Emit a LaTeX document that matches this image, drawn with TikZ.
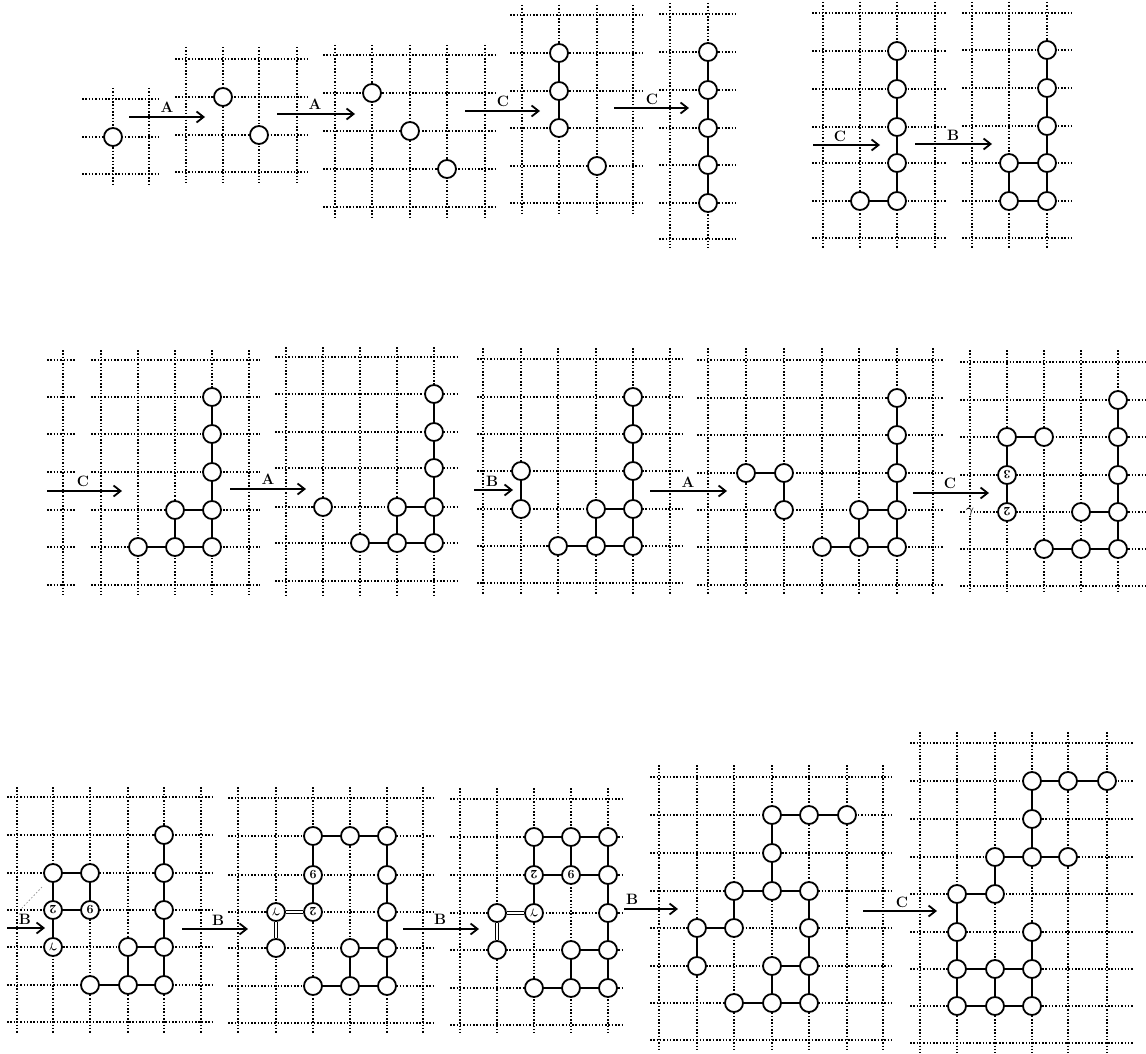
\documentclass[tikz,border=0pt]{standalone}
\usepackage{amsmath}
\usetikzlibrary{arrows.meta}
\tikzset{
 gridline/.style={line width=1.5pt, dash pattern=on 1.5pt off 1.8pt},
 mon/.style={circle, draw, line width=1.8pt, fill=white, minimum size=18pt, inner sep=0pt},
 bond/.style={line width=1.8pt},
 hbond/.style={line width=2.6pt},
 dbond/.style={double, double distance=2.4pt, line width=1.1pt},
 steparrow/.style={line width=1.8pt, -{Straight Barb[length=7pt,width=11pt,line width=1.8pt]}},
 oplabel/.style={font=\fontsize{15}{15}\selectfont\bfseries},
 lbl/.style={font=\fontsize{12.5}{12.5}\selectfont\bfseries, rotate=180},
}
\newcommand\gam{$\boldsymbol{\gamma}$}
\newcommand\lat[6]{%
 \foreach \gx in {#1}{\draw[gridline] (\gx,#5) -- (\gx,#6);}%
 \foreach \gy in {#2}{\draw[gridline] (#3,\gy) -- (#4,\gy);}}
\newcommand\bd[2]{\draw[bond] (#1) -- (#2);}
\newcommand\db[2]{\draw[dbond] (#1) -- (#2);}
\newcommand\mn[3]{\node[mon] (#1) at (#2,#3) {};}
\newcommand\ml[4]{\node[mon,lbl] (#1) at (#2,#3) {#4};}
\newcommand\oparrow[7]{% name, x1, x2, y, label, lx, ly
 \coordinate (#1s) at (#2,#4); \coordinate (#1e) at (#3,#4);
 \draw[steparrow] (#1s) -- (#1e);
 \node[oplabel] (#1l) at (#6,#7) {#5};}
\begin{document}
\begin{tikzpicture}[x=1pt,y=-1pt]
\useasboundingbox (0,0) rectangle (1146,1054);
% ---------------- Row 1 ----------------
\lat{113,149}{99,137,174}{82}{160}{88}{184}
\mn{p1a}{113}{137}
\oparrow{r1a}{129}{205}{117}{A}{167}{107}
\lat{186,223,259,297}{59,97,135,172}{175}{308}{47}{183}
\mn{p2a}{223}{97} \mn{p2b}{259}{135}
\oparrow{r1b}{277}{355}{114}{A}{315}{104}
\lat{335,372,410,447,485}{55,93,131,169,207}{323}{495}{45}{217}
\mn{p3a}{372}{93} \mn{p3b}{410}{131} \mn{p3c}{447}{169}
\oparrow{r1c}{465}{540}{111}{C}{503}{101}
\lat{522,559,597,633}{15,53,91,128,166,203}{510}{643}{5}{213}
\mn{p4a}{559}{53} \mn{p4b}{559}{91} \mn{p4c}{559}{128} \mn{p4d}{597}{166}
\bd{p4a}{p4b} \bd{p4b}{p4c}
\oparrow{r1d}{614}{689}{108}{C}{652}{99}
\lat{670,708}{14,52,90,128,165,203,239}{659}{735}{3}{248}
\mn{p5a}{708}{52} \mn{p5b}{708}{90} \mn{p5c}{708}{128} \mn{p5d}{708}{165} \mn{p5e}{708}{203}
\bd{p5a}{p5b} \bd{p5b}{p5c} \bd{p5c}{p5d} \bd{p5d}{p5e}
\lat{823,860,897,935}{13,51,89,127,163,201,238}{812}{947}{2}{248}
\mn{p6a}{897}{51} \mn{p6b}{897}{89} \mn{p6c}{897}{127} \mn{p6d}{897}{163} \mn{p6e}{897}{201} \mn{p6f}{860}{201}
\bd{p6a}{p6b} \bd{p6b}{p6c} \bd{p6c}{p6d} \bd{p6d}{p6e} \bd{p6f}{p6e}
\oparrow{r1e}{813}{880}{145}{C}{840}{136}
\oparrow{r1f}{915}{992}{144}{B}{953}{135}
\lat{972,1009,1047}{13,50,88,126,163,201,238}{962}{1073}{2}{248}
\mn{p7a}{1047}{50} \mn{p7b}{1047}{88} \mn{p7c}{1047}{126} \mn{p7d}{1047}{163} \mn{p7e}{1047}{201}
\mn{p7f}{1009}{163} \mn{p7g}{1009}{201}
\bd{p7a}{p7b} \bd{p7b}{p7c} \bd{p7c}{p7d} \bd{p7d}{p7e} \bd{p7f}{p7d} \bd{p7g}{p7e} \bd{p7f}{p7g}
% ---------------- Row 2 ----------------
\lat{63}{360,397,434,472,510,547,585}{47}{75}{350}{595}
\lat{101,138,175,212,249}{360,397,434,472,510,547,585}{91}{260}{350}{595}
\mn{p9a}{212}{397} \mn{p9b}{212}{434} \mn{p9c}{212}{472} \mn{p9d}{212}{510} \mn{p9e}{212}{547}
\mn{p9f}{175}{510} \mn{p9g}{175}{547} \mn{p9h}{138}{547}
\bd{p9a}{p9b} \bd{p9b}{p9c} \bd{p9c}{p9d} \bd{p9d}{p9e} \bd{p9f}{p9d} \bd{p9f}{p9g} \bd{p9g}{p9e} \bd{p9h}{p9g}
\oparrow{r2a}{47}{122}{491}{C}{83}{481}
\oparrow{r2b}{230}{306}{489}{A}{268}{479}
\lat{286,323,360,397,434}{357,394,432,468,507,543,581}{275}{458}{347}{595}
\mn{p10x}{323}{507}
\mn{p10a}{434}{394} \mn{p10b}{434}{432} \mn{p10c}{434}{468} \mn{p10d}{434}{507} \mn{p10e}{434}{543}
\mn{p10f}{397}{507} \mn{p10g}{397}{543} \mn{p10h}{360}{543}
\bd{p10a}{p10b} \bd{p10b}{p10c} \bd{p10c}{p10d} \bd{p10d}{p10e} \bd{p10f}{p10d} \bd{p10f}{p10g} \bd{p10g}{p10e} \bd{p10h}{p10g}
\lat{483,521,558,596,633,670}{359,397,434,471,509,546,583}{477}{682}{348}{595}
\mn{p11x}{521}{471} \mn{p11y}{521}{509} \bd{p11x}{p11y}
\mn{p11a}{633}{397} \mn{p11b}{633}{434} \mn{p11c}{633}{471} \mn{p11d}{633}{509} \mn{p11e}{633}{546}
\mn{p11f}{596}{509} \mn{p11g}{596}{546} \mn{p11h}{558}{546}
\bd{p11a}{p11b} \bd{p11b}{p11c} \bd{p11c}{p11d} \bd{p11d}{p11e} \bd{p11f}{p11d} \bd{p11f}{p11g} \bd{p11g}{p11e} \bd{p11h}{p11g}
\oparrow{r2c}{474}{513}{490}{B}{492}{481}
\oparrow{r2d}{650}{727}{491}{A}{688}{482}
\lat{708,746,784,822,859,897,933}{360,398,435,473,510,547,585}{697}{943}{348}{595}
\mn{p12x}{746}{473} \mn{p12y}{784}{473} \mn{p12z}{784}{510} \bd{p12x}{p12y} \bd{p12y}{p12z}
\mn{p12a}{897}{398} \mn{p12b}{897}{435} \mn{p12c}{897}{473} \mn{p12d}{897}{510} \mn{p12e}{897}{547}
\mn{p12f}{859}{510} \mn{p12g}{859}{547} \mn{p12h}{822}{547}
\bd{p12a}{p12b} \bd{p12b}{p12c} \bd{p12c}{p12d} \bd{p12d}{p12e} \bd{p12f}{p12d} \bd{p12f}{p12g} \bd{p12g}{p12e} \bd{p12h}{p12g}
\oparrow{r2e}{913}{989}{493}{C}{950}{483}
\lat{970,1007,1044,1081,1118}{362,400,437,475,512,549,586}{960}{1145}{350}{593}
\mn{p13u}{1007}{437} \mn{p13v}{1044}{437} \ml{p13w}{1007}{475}{3} \ml{p13x}{1007}{512}{2}
\bd{p13u}{p13v} \bd{p13u}{p13w} \bd{p13w}{p13x}
\mn{p13a}{1118}{400} \mn{p13b}{1118}{437} \mn{p13c}{1118}{475} \mn{p13d}{1118}{512} \mn{p13e}{1118}{549}
\mn{p13f}{1081}{512} \mn{p13g}{1081}{549} \mn{p13h}{1044}{549}
\bd{p13a}{p13b} \bd{p13b}{p13c} \bd{p13c}{p13d} \bd{p13d}{p13e} \bd{p13f}{p13d} \bd{p13g}{p13e} \bd{p13h}{p13g}
\node[fill=white, inner sep=0.5pt, font=\fontsize{13}{13}\selectfont] (p13lab) at (970,512) {\gam};
% ---------------- Row 3 ----------------
\lat{17,53,90,128,164,201}{797,835,873,910,947,985,1022}{7}{213}{787}{1033}
\mn{p14p}{53}{873} \mn{p14q}{90}{873} \ml{p14r}{53}{910}{2} \ml{p14s}{90}{910}{9} \ml{p14t}{53}{947}{\gam}
\bd{p14p}{p14q} \bd{p14q}{p14s} \draw[hbond] (p14r) -- (p14s); \bd{p14p}{p14r} \bd{p14r}{p14t}
\mn{p14a}{164}{835} \mn{p14b}{164}{873} \mn{p14c}{164}{910} \mn{p14d}{164}{947} \mn{p14e}{164}{985}
\mn{p14f}{128}{947} \mn{p14g}{128}{985} \mn{p14h}{90}{985}
\bd{p14a}{p14b} \bd{p14b}{p14c} \bd{p14c}{p14d} \bd{p14d}{p14e} \bd{p14f}{p14d} \bd{p14f}{p14g} \bd{p14g}{p14e} \bd{p14h}{p14g}
\coordinate (s1) at (42,887); \coordinate (s2) at (21,909);
\draw[line width=0.6pt, dash pattern=on 1.5pt off 2pt, gray] (s1) -- (s2);
\oparrow{r3a}{7}{45}{928}{B}{25}{919}
\oparrow{r3b}{182}{248}{929}{B}{218}{920}
\lat{238,276,313,350,387,423}{798,836,875,912,948,986,1023}{228}{433}{787}{1033}
\mn{p15p}{313}{836} \mn{p15q}{350}{836} \ml{p15s}{313}{875}{9} \ml{p15t}{313}{912}{2}
\ml{p15u}{276}{912}{\gam} \mn{p15v}{276}{948}
\mn{p15a}{387}{836} \mn{p15b}{387}{875} \mn{p15c}{387}{912} \mn{p15d}{387}{948} \mn{p15e}{387}{986}
\mn{p15f}{350}{948} \mn{p15g}{350}{986} \mn{p15h}{313}{986}
\bd{p15p}{p15q} \bd{p15q}{p15a} \bd{p15p}{p15s} \bd{p15s}{p15t} \db{p15u}{p15t} \db{p15u}{p15v}
\bd{p15a}{p15b} \bd{p15b}{p15c} \bd{p15c}{p15d} \bd{p15d}{p15e} \bd{p15f}{p15d} \bd{p15f}{p15g} \bd{p15g}{p15e} \bd{p15h}{p15g}
\oparrow{r3c}{403}{479}{929}{B}{440}{919}
\lat{460,497,534,571,608}{799,837,875,913,950,988,1025}{450}{623}{788}{1033}
\mn{p16p}{534}{837} \mn{p16q}{571}{837} \ml{p16s}{534}{875}{2} \ml{p16t}{571}{875}{9}
\ml{p16u}{534}{913}{\gam} \mn{p16v}{497}{913} \mn{p16w}{497}{950}
\mn{p16a}{608}{837} \mn{p16b}{608}{875} \mn{p16c}{608}{913} \mn{p16d}{608}{950} \mn{p16e}{608}{988}
\mn{p16f}{571}{950} \mn{p16g}{571}{988} \mn{p16h}{534}{988}
\bd{p16p}{p16q} \bd{p16q}{p16a} \bd{p16p}{p16s} \bd{p16q}{p16t} \bd{p16s}{p16t} \bd{p16t}{p16b} \bd{p16s}{p16u}
\db{p16v}{p16u} \db{p16v}{p16w}
\bd{p16a}{p16b} \bd{p16b}{p16c} \bd{p16c}{p16d} \bd{p16d}{p16e} \bd{p16f}{p16d} \bd{p16f}{p16g} \bd{p16g}{p16e} \bd{p16h}{p16g}
\oparrow{r3d}{624}{678}{909}{B}{632}{899}
\lat{659,697,734,772,809,847,883}{777,815,853,891,928,966,1003,1040}{650}{893}{765}{1052}
\mn{p17a}{772}{815} \mn{p17b}{809}{815} \mn{p17c}{847}{815} \mn{p17d}{772}{853}
\mn{p17e}{734}{891} \mn{p17f}{772}{891} \mn{p17g}{809}{891}
\mn{p17h}{697}{928} \mn{p17i}{734}{928} \mn{p17j}{809}{928}
\mn{p17k}{697}{966} \mn{p17l}{772}{966} \mn{p17m}{809}{966}
\mn{p17n}{734}{1003} \mn{p17o}{772}{1003} \mn{p17q}{809}{1003}
\bd{p17a}{p17b} \bd{p17b}{p17c} \bd{p17a}{p17d} \bd{p17d}{p17f} \bd{p17e}{p17f} \bd{p17f}{p17g}
\bd{p17e}{p17i} \bd{p17h}{p17i} \bd{p17h}{p17k} \bd{p17g}{p17j} \bd{p17j}{p17m} \bd{p17m}{p17q}
\bd{p17l}{p17m} \bd{p17l}{p17o} \bd{p17n}{p17o} \bd{p17o}{p17q}
\oparrow{r3e}{863}{937}{911}{C}{902}{902}
\lat{920,957,995,1032,1068,1107}{743,781,819,857,894,932,969,1006,1043}{910}{1133}{732}{1053}
\mn{p18a}{1032}{781} \mn{p18b}{1068}{781} \mn{p18c}{1107}{781} \mn{p18d}{1032}{819}
\mn{p18e}{995}{857} \mn{p18f}{1032}{857} \mn{p18g}{1068}{857}
\mn{p18h}{957}{894} \mn{p18i}{995}{894}
\mn{p18j}{957}{932} \mn{p18k}{1032}{932}
\mn{p18l}{957}{969} \mn{p18m}{995}{969} \mn{p18n}{1032}{969}
\mn{p18o}{957}{1006} \mn{p18q}{995}{1006} \mn{p18r}{1032}{1006}
\bd{p18a}{p18b} \bd{p18b}{p18c} \bd{p18a}{p18d} \bd{p18d}{p18f} \bd{p18e}{p18f} \bd{p18f}{p18g}
\bd{p18e}{p18i} \bd{p18h}{p18i} \bd{p18h}{p18j} \bd{p18j}{p18l} \bd{p18l}{p18o}
\bd{p18k}{p18n} \bd{p18n}{p18r} \bd{p18l}{p18m} \bd{p18m}{p18n} \bd{p18m}{p18q} \bd{p18o}{p18q} \bd{p18q}{p18r}
\end{tikzpicture}
\end{document}
